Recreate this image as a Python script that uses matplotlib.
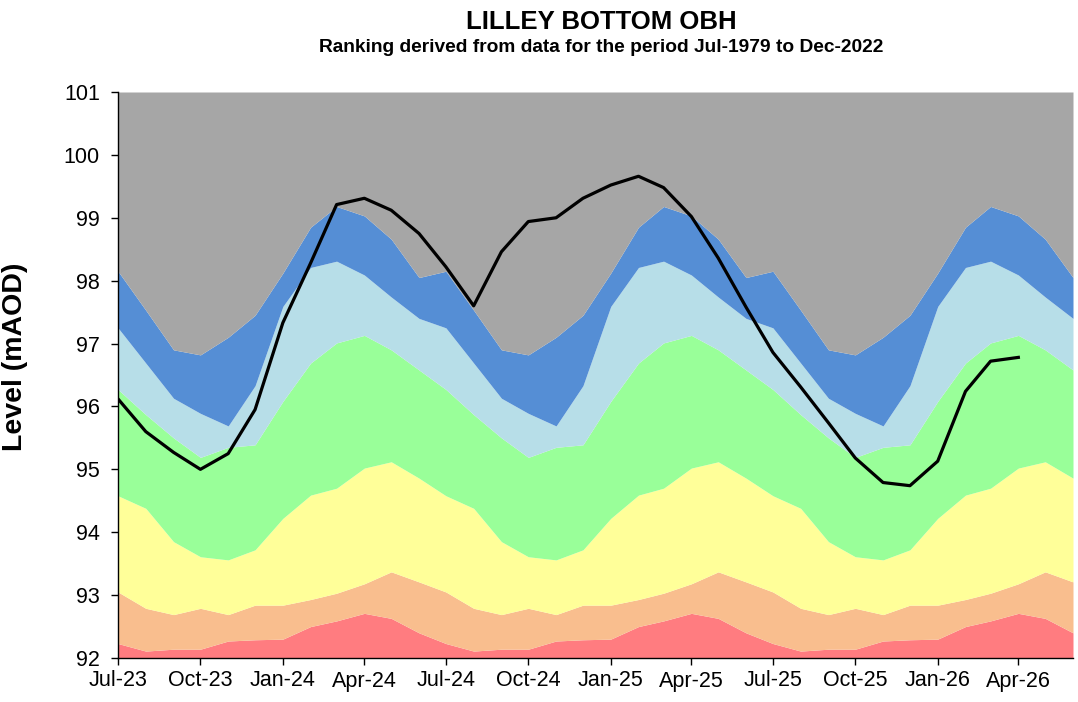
import matplotlib
matplotlib.use('Agg')
import matplotlib.pyplot as plt
import matplotlib.dates as mdates
import pandas as pd
import numpy as np

plt.rcParams['font.family'] = ['Liberation Sans', 'DejaVu Sans']

# monthly band tops (mAOD), Jul-23 .. Jun-26
months = pd.date_range('2023-07-01', periods=36, freq='MS')

red_top = [92.23, 92.11, 92.14, 92.14, 92.27, 92.29, 92.30, 92.50, 92.59, 92.71, 92.63, 92.40,
           92.23, 92.11, 92.14, 92.14, 92.27, 92.29, 92.30, 92.50, 92.59, 92.71, 92.63, 92.40,
           92.23, 92.11, 92.14, 92.14, 92.27, 92.29, 92.30, 92.50, 92.59, 92.71, 92.63, 92.40]
orange_top = [93.05, 92.79, 92.69, 92.79, 92.69, 92.84, 92.84, 92.93, 93.03, 93.18, 93.37, 93.21,
              93.05, 92.79, 92.69, 92.79, 92.69, 92.84, 92.84, 92.93, 93.03, 93.18, 93.37, 93.21,
              93.05, 92.79, 92.69, 92.79, 92.69, 92.84, 92.84, 92.93, 93.03, 93.18, 93.37, 93.21]
yellow_top = [94.58, 94.38, 93.85, 93.61, 93.56, 93.72, 94.22, 94.59, 94.70, 95.02, 95.12, 94.86,
              94.58, 94.38, 93.85, 93.61, 93.56, 93.72, 94.22, 94.59, 94.70, 95.02, 95.12, 94.86,
              94.58, 94.38, 93.85, 93.61, 93.56, 93.72, 94.22, 94.59, 94.70, 95.02, 95.12, 94.86]
green_top = [96.27, 95.87, 95.50, 95.19, 95.35, 95.39, 96.08, 96.69, 97.01, 97.13, 96.90, 96.58,
             96.27, 95.87, 95.50, 95.19, 95.35, 95.39, 96.08, 96.69, 97.01, 97.13, 96.90, 96.58,
             96.27, 95.87, 95.50, 95.19, 95.35, 95.39, 96.08, 96.69, 97.01, 97.13, 96.90, 96.58]
lblue_top = [97.25, 96.69, 96.13, 95.89, 95.69, 96.33, 97.59, 98.21, 98.31, 98.09, 97.74, 97.40,
             97.25, 96.69, 96.13, 95.89, 95.69, 96.33, 97.59, 98.21, 98.31, 98.09, 97.74, 97.40,
             97.25, 96.69, 96.13, 95.89, 95.69, 96.33, 97.59, 98.21, 98.31, 98.09, 97.74, 97.40]
blue_top = [98.15, 97.53, 96.90, 96.82, 97.10, 97.45, 98.12, 98.85, 99.18, 99.03, 98.66, 98.05,
            98.15, 97.53, 96.90, 96.82, 97.10, 97.45, 98.12, 98.85, 99.18, 99.03, 98.66, 98.05,
            98.15, 97.53, 96.90, 96.82, 97.10, 97.45, 98.12, 98.85, 99.18, 99.03, 98.66, 98.05]

# observed level, Jul-23 .. Apr-26
level = [96.12, 95.60, 95.27, 95.00, 95.25, 95.95, 97.33, 98.28, 99.21, 99.31, 99.12, 98.75,
         98.22, 97.60, 98.46, 98.94, 99.00, 99.31, 99.52, 99.66, 99.48, 99.02, 98.36, 97.58,
         96.86, 96.31, 95.74, 95.18, 94.79, 94.74, 95.13, 96.24, 96.72, 96.78]

y_min, y_max = 92, 101

fig = plt.figure(figsize=(10.78, 7.02), dpi=100)
ax = fig.add_axes([118/1078, 1 - 658/702, (1073 - 118)/1078, (658 - 92)/702])

bounds = [np.full(36, y_min), red_top, orange_top, yellow_top, green_top, lblue_top, blue_top, np.full(36, y_max)]
colours = ['#FF7C80', '#F9BE8E', '#FFFF99', '#99FF99', '#B7DEE8', '#558ED5', '#A6A6A6']
for i in range(len(colours)):
    ax.fill_between(months, bounds[i], bounds[i + 1], color=colours[i], lw=0)

ax.plot(months[:len(level)], level, color='black', lw=2.3)

ax.set_ylim(y_min, y_max)
ax.set_xlim(months[0], months[-1])
ax.set_yticks(range(92, 102))
ax.xaxis.set_major_locator(mdates.MonthLocator(bymonth=[1, 4, 7, 10]))
ax.xaxis.set_major_formatter(mdates.DateFormatter('%b-%y'))
ax.tick_params(axis='both', direction='out', length=5, width=1, labelsize=15.5, colors='black')
ax.tick_params(axis='y', pad=8)
ax.tick_params(axis='x', pad=4)
for s in ['top', 'right']:
    ax.spines[s].set_visible(False)
for s in ['left', 'bottom']:
    ax.spines[s].set_linewidth(1)
    ax.spines[s].set_zorder(5)

ax.set_ylabel('Level (mAOD)', fontsize=20.5, fontweight='bold')
ax.yaxis.set_label_coords(-90/955, 0.532)
fig.text(601/1078, 1 - 22/702, 'LILLEY BOTTOM OBH', ha='center', va='center', fontsize=18.5, fontweight='bold')
fig.text(601/1078, 1 - 48/702, 'Ranking derived from data for the period Jul-1979 to Dec-2022',
         ha='center', va='center', fontsize=13.8, fontweight='bold')

fig.savefig('out.png', dpi=100)
